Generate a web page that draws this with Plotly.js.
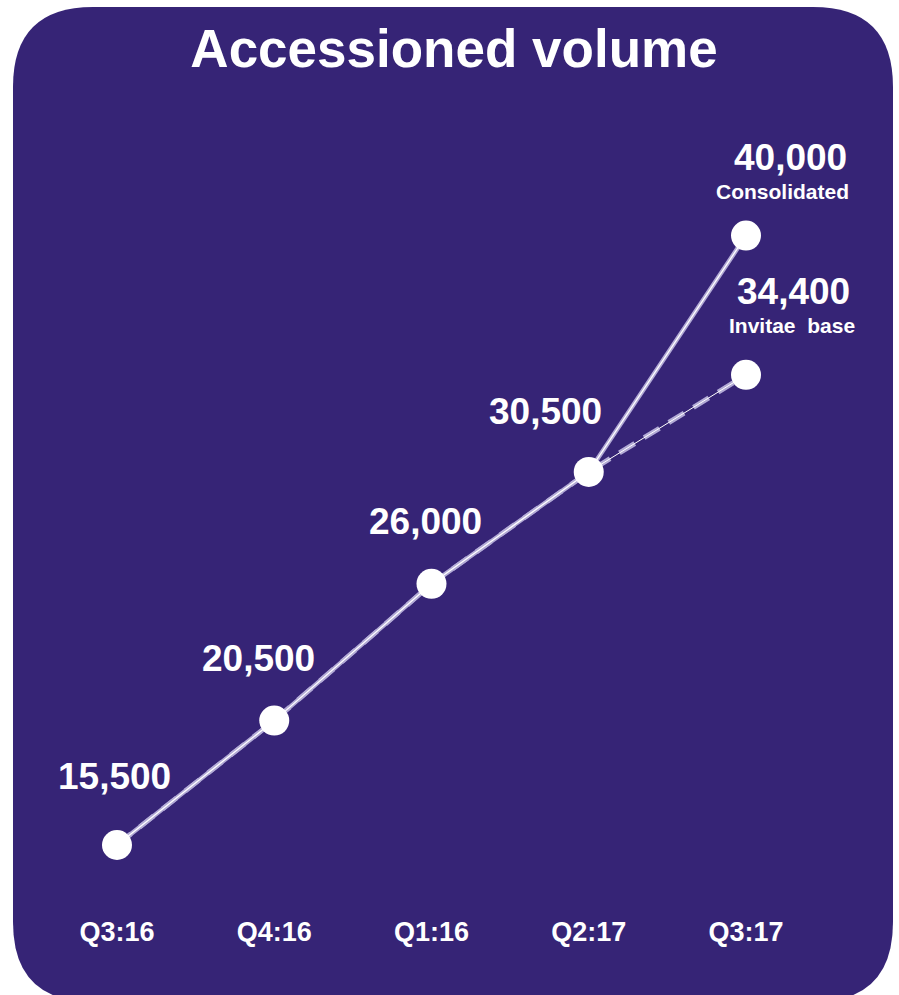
<!DOCTYPE html>
<html>
<head>
<meta charset="utf-8">
<script src="https://cdn.plot.ly/plotly-3.0.1.min.js"></script>
<style>
  html, body { margin: 0; padding: 0; background: #ffffff; }
  #chart { width: 899px; height: 995px; }
</style>
</head>
<body>
<div id="chart"></div>
<script>
// ---- data ----
var quarters = ["Q3:16", "Q4:16", "Q1:16", "Q2:17", "Q3:17"];
var consolidated = [15500, 20500, 26000, 30500, 40000];
var invitaeBase = [15500, 20500, 26000, 30500, 34400];
var valueLabels = ["15,500", "20,500", "26,000", "30,500", "40,000"];
var baseLabel = "34,400";
var seriesNames = ["Consolidated", "Invitae base"];
var chartTitle = "Accessioned volume";

// ---- layout helpers ----
var W = 899, H = 995, MB = 83;
var plotH = H - MB;
function px2paperX(px) { return px / W; }
function px2paperY(py) { return (plotH - py) / plotH; }

var purple = "#362476";
var lav = "#b3abd6";
var FONT = "Liberation Sans, Arial, Helvetica, sans-serif";

// rounded rectangle background (pixel geometry converted to paper units)
var L = 13, R = 893, T = 7, B = 1002, rad = 80;
function P(x, y) { return px2paperX(x).toFixed(5) + "," + px2paperY(y).toFixed(5); }
var bgPath =
  "M " + P(L + rad, T) +
  " L " + P(R - rad, T) +
  " Q " + P(R, T) + " " + P(R, T + rad) +
  " L " + P(R, B - rad) +
  " Q " + P(R, B) + " " + P(R - rad, B) +
  " L " + P(L + rad, B) +
  " Q " + P(L, B) + " " + P(L, B - rad) +
  " L " + P(L, T + rad) +
  " Q " + P(L, T) + " " + P(L + rad, T) + " Z";

var traces = [
  // Invitae base (dashed), drawn underneath
  { x: quarters, y: invitaeBase, type: "scatter", mode: "lines", name: seriesNames[1],
    line: { color: lav, width: 5, dash: "18px,11px" }, hoverinfo: "skip" },
  { x: quarters, y: invitaeBase, type: "scatter", mode: "lines", name: seriesNames[1],
    line: { color: "#ffffff", width: 1 }, hoverinfo: "skip" },
  // Consolidated (solid)
  { x: quarters, y: consolidated, type: "scatter", mode: "lines", name: seriesNames[0],
    line: { color: lav, width: 4.5 }, hoverinfo: "skip" },
  { x: quarters, y: consolidated, type: "scatter", mode: "lines", name: seriesNames[0],
    line: { color: "#ffffff", width: 1.3 }, hoverinfo: "skip" },
  // markers
  { x: quarters, y: consolidated, type: "scatter", mode: "markers", name: seriesNames[0],
    marker: { color: "#ffffff", size: 30, line: { width: 0 } } },
  { x: [quarters[4]], y: [invitaeBase[4]], type: "scatter", mode: "markers", name: seriesNames[1],
    marker: { color: "#ffffff", size: 30, line: { width: 0 } } }
];

var numShift = [[-2, 68], [-16, 62], [-6, 62], [-43, 60], [44, 78]];
var annotations = [];
for (var i = 0; i < quarters.length; i++) {
  annotations.push({
    x: quarters[i], y: consolidated[i], xref: "x", yref: "y",
    text: valueLabels[i], showarrow: false,
    xshift: numShift[i][0], yshift: numShift[i][1],
    font: { family: FONT, size: 37, color: "#ffffff", weight: "bold" }
  });
}
annotations.push({
  x: quarters[4], y: consolidated[4], xref: "x", yref: "y",
  text: seriesNames[0], showarrow: false, xshift: 36, yshift: 44,
  font: { family: FONT, size: 21, color: "#ffffff", weight: "bold" }
});
annotations.push({
  x: quarters[4], y: invitaeBase[4], xref: "x", yref: "y",
  text: baseLabel, showarrow: false, xshift: 47, yshift: 83,
  font: { family: FONT, size: 37, color: "#ffffff", weight: "bold" }
});
annotations.push({
  x: quarters[4], y: invitaeBase[4], xref: "x", yref: "y",
  text: "Invitae&nbsp; base", showarrow: false, xshift: 46, yshift: 49,
  font: { family: FONT, size: 21, color: "#ffffff", weight: "bold" }
});

var layout = {
  width: W, height: H,
  margin: { l: 0, r: 0, t: 0, b: MB, pad: 0 },
  paper_bgcolor: "#ffffff",
  plot_bgcolor: "rgba(0,0,0,0)",
  showlegend: false,
  title: {
    text: chartTitle, x: 0.505, xanchor: "center", y: 1 - 48 / H, yanchor: "middle",
    font: { family: FONT, size: 53, color: "#ffffff", weight: "bold" }
  },
  xaxis: {
    type: "category", range: [-0.744, 4.973], showgrid: false, zeroline: false,
    showline: false, ticks: "", ticklabelstandoff: 1,
    tickfont: { family: FONT, size: 27, color: "#ffffff", weight: "bold" },
    fixedrange: true
  },
  yaxis: {
    range: [12806, 49471], showgrid: false, zeroline: false, showline: false,
    showticklabels: false, ticks: "", fixedrange: true
  },
  shapes: [{
    type: "path", xref: "paper", yref: "paper", path: bgPath,
    fillcolor: purple, line: { width: 0 }, layer: "below"
  }],
  annotations: annotations
};

Plotly.newPlot("chart", traces, layout, { displayModeBar: false, staticPlot: true });
</script>
</body>
</html>
